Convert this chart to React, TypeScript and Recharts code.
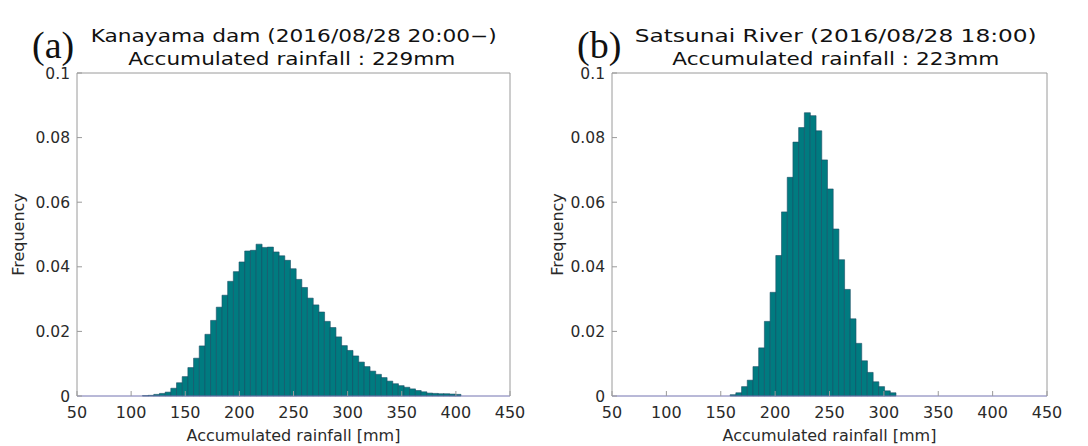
import React from "react";
import { Bar, BarChart, Label, XAxis, YAxis } from "recharts";

// axis ticks shared by both panels
const xTicks = [50, 100, 150, 200, 250, 300, 350, 400, 450];
const yTicks = [0, 0.02, 0.04, 0.06, 0.08, 0.1];

// (a) Kanayama dam: bin centres [mm] and frequencies
const kanayamaBins = [
  113.05, 118.3, 123.55, 128.8, 134.05, 139.3, 144.55, 149.8, 155.05, 160.3, 165.55, 170.8, 176.05, 181.3,
  186.55, 191.8, 197.05, 202.3, 207.55, 212.8, 218.05, 223.3, 228.55, 233.8, 239.05, 244.3, 249.55, 254.8,
  260.05, 265.3, 270.55, 275.8, 281.05, 286.3, 291.55, 296.8, 302.05, 307.3, 312.55, 317.8, 323.05, 328.3,
  333.55, 338.8, 344.05, 349.3, 354.55, 359.8, 365.05, 370.3, 375.55, 380.8, 386.05, 391.3, 396.55, 401.8,
];
const kanayamaFreq = [
  0.0001, 0.0002, 0.0005, 0.0008, 0.0012, 0.0024, 0.0041, 0.006, 0.0088, 0.0117, 0.0155, 0.0191, 0.0234, 0.0275,
  0.0312, 0.0355, 0.0385, 0.0415, 0.0449, 0.0451, 0.047, 0.046, 0.0461, 0.0446, 0.0434, 0.042, 0.0394, 0.0361,
  0.0336, 0.0303, 0.0282, 0.026, 0.0231, 0.0212, 0.0183, 0.0156, 0.0141, 0.0124, 0.0105, 0.0091, 0.0077, 0.0067,
  0.0057, 0.0046, 0.0038, 0.0032, 0.0027, 0.0022, 0.0017, 0.0013, 0.0009, 0.0008, 0.0007, 0.0007, 0.0006, 0.0005,
];

// (b) Satsunai River
const satsunaiBins = [
  161.25, 166.5, 171.75, 177, 182.25, 187.5, 192.75, 198, 203.25, 208.5, 213.75, 219, 224.25, 229.5, 234.75,
  240, 245.25, 250.5, 255.75, 261, 266.25, 271.5, 276.75, 282, 287.25, 292.5, 297.75, 303, 308.25,
];
const satsunaiFreq = [
  0.0004, 0.001, 0.0029, 0.0049, 0.0091, 0.0149, 0.0231, 0.0321, 0.0435, 0.057, 0.0677, 0.0786, 0.0831, 0.0877,
  0.0868, 0.0821, 0.0731, 0.0641, 0.0517, 0.0422, 0.033, 0.0239, 0.0163, 0.0109, 0.0073, 0.0044, 0.0029, 0.0016,
  0.001,
];

const FONT = "DejaVu Sans";
const BOX = "#9a9a9a";
const BASE = "#7272b0";
const TXT = "#2a2a2a";

type PanelProps = {
  bins: number[];
  freq: number[];
  plotLeft: number;
  plotRight: number;
  labelX: number;
};

const Panel = ({ bins, freq, plotLeft, plotRight, labelX }: PanelProps) => {
  const data = bins.map((x, i) => ({ x, f: freq[i] }));
  const left = labelX - 8;
  return (
    <BarChart
      width={544}
      height={446}
      data={data}
      margin={{ top: 73, right: 544 - plotRight, bottom: 0, left }}
      barCategoryGap={0}
      barGap={0}
    >
      <XAxis
        dataKey="x"
        type="number"
        domain={[50, 450]}
        ticks={xTicks}
        interval={0}
        height={50}
        tickSize={-5}
        tickMargin={16}
        tick={{ fill: TXT, fontSize: 16, fontFamily: FONT }}
        tickLine={{ stroke: BOX }}
        axisLine={{ stroke: BASE }}
      >
        <Label value="Accumulated rainfall [mm]" position="insideBottom" offset={5} fill={TXT} fontSize={16} fontFamily={FONT} />
      </XAxis>
      <XAxis
        xAxisId="top"
        orientation="top"
        mirror
        type="number"
        domain={[50, 450]}
        ticks={xTicks}
        interval={0}
        tick={false}
        tickSize={5}
        tickLine={{ stroke: BOX }}
        axisLine={{ stroke: BOX }}
      />
      <YAxis
        type="number"
        domain={[0, 0.1]}
        ticks={yTicks}
        interval={0}
        width={plotLeft - left}
        tickSize={-5}
        tickMargin={12}
        tick={{ fill: TXT, fontSize: 15.5, fontFamily: FONT }}
        tickLine={{ stroke: BOX }}
        axisLine={{ stroke: BOX }}
      >
        <Label
          value="Frequency"
          angle={-90}
          position="insideLeft"
          offset={8}
          fill={TXT}
          fontSize={16}
          fontFamily={FONT}
          style={{ textAnchor: "middle" }}
        />
      </YAxis>
      <YAxis
        yAxisId="right"
        orientation="right"
        mirror
        type="number"
        domain={[0, 0.1]}
        ticks={yTicks}
        interval={0}
        tick={false}
        tickSize={5}
        tickLine={{ stroke: BOX }}
        axisLine={{ stroke: BOX }}
      />
      <Bar dataKey="f" fill="#007b80" stroke="#1d4f66" strokeWidth={0.6} isAnimationActive={false} />
    </BarChart>
  );
};

export default function App() {
  const titleStyle = { fontFamily: FONT, fontSize: 17.5, fill: "#111" };
  return (
    <div style={{ position: "absolute", left: 0, top: 0, width: 1088, height: 446, background: "#fff" }}>
      <div style={{ position: "absolute", left: 0, top: 0 }}>
        <Panel bins={kanayamaBins} freq={kanayamaFreq} plotLeft={77} plotRight={510} labelX={18} />
      </div>
      <div style={{ position: "absolute", left: 544, top: 0 }}>
        <Panel bins={satsunaiBins} freq={satsunaiFreq} plotLeft={68} plotRight={503} labelX={13} />
      </div>
      <svg width={1088} height={446} style={{ position: "absolute", left: 0, top: 0, pointerEvents: "none" }}>
        <text x={32} y={58} fontFamily="Liberation Serif" fontSize={38} fill="#111">(a)</text>
        <text x={90.7} y={41.7} textLength={406} lengthAdjust="spacingAndGlyphs" style={titleStyle}>
          Kanayama dam (2016/08/28 20:00−)
        </text>
        <text x={128.3} y={65} textLength={327} lengthAdjust="spacingAndGlyphs" style={titleStyle}>
          Accumulated rainfall : 229mm
        </text>
        <text x={577} y={58} fontFamily="Liberation Serif" fontSize={38} fill="#111">(b)</text>
        <text x={634.7} y={41.7} textLength={402} lengthAdjust="spacingAndGlyphs" style={titleStyle}>
          Satsunai River (2016/08/28 18:00)
        </text>
        <text x={672.3} y={65} textLength={327} lengthAdjust="spacingAndGlyphs" style={titleStyle}>
          Accumulated rainfall : 223mm
        </text>
      </svg>
    </div>
  );
}
